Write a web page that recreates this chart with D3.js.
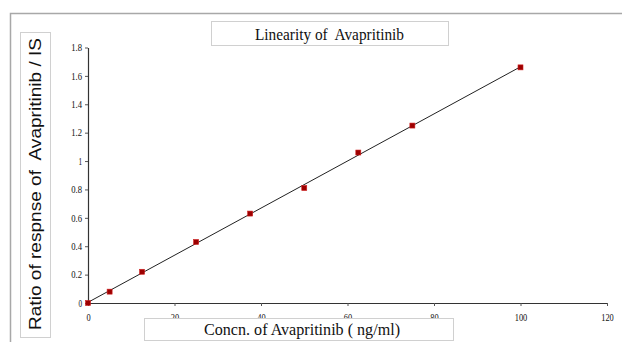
<!DOCTYPE html>
<html>
<head>
<meta charset="utf-8">
<script src="https://cdn.jsdelivr.net/npm/d3@7"></script>
<style>
  body { margin: 0; background: #fff; }
  svg { display: block; }
</style>
</head>
<body>
<svg id="chart"></svg>
<script>
// linearity plot, concentration vs response ratio

var width = 622;
var height = 342;

// data
var concentrations = [0, 5, 12.5, 25, 37.5, 50, 62.5, 75, 100];
var ratios = [0, 0.08, 0.22, 0.43, 0.63, 0.81, 1.06, 1.25, 1.66];
var xTicks = [0, 20, 40, 60, 80, 100, 120];
var yTicks = [0, 0.2, 0.4, 0.6, 0.8, 1, 1.2, 1.4, 1.6, 1.8];

var chartTitle = "Linearity of  Avapritinib";
var xTitle = "Concn. of Avapritinib ( ng/ml)";
var yTitle = "Ratio of respnse of  Avapritinib / IS";

var svg = d3.select("#chart")
    .attr("width", width)
    .attr("height", height);

// outer frame
svg.append("rect")
    .attr("x", 10.5).attr("y", 13.5)
    .attr("width", 700).attr("height", 400)
    .style("fill", "none")
    .style("stroke", "#a8a8a8")
    .style("stroke-width", 1.5);

// SCALES
var x = d3.scaleLinear()
    .domain([0, 120])
    .range([88, 607]);
var y = d3.scaleLinear()
    .domain([0, 1.8])
    .range([303, 47.5]);

// AXES
var xAxis = svg.append("g")
    .attr("transform", "translate(0,303)")
    .call(d3.axisBottom(x).tickValues(xTicks).tickSize(3).tickSizeOuter(0).tickPadding(8));
var yAxis = svg.append("g")
    .attr("transform", "translate(88,0)")
    .call(d3.axisLeft(y).tickValues(yTicks).tickSize(3).tickSizeOuter(0).tickPadding(3)
        .tickFormat(d3.format("~g")));

[xAxis, yAxis].forEach(function(a) {
    a.select(".domain").style("stroke", "#333").style("stroke-width", 1.2);
    a.selectAll(".tick line").style("stroke", "#555");
    a.selectAll("text")
        .style("font-family", "'Liberation Serif', serif")
        .style("font-size", "10px")
        .style("fill", "#111");
});
// condensed look of the tick labels
xAxis.selectAll(".tick").each(function(d) {
    d3.select(this).select("text")
        .attr("textLength", String(d).length * 4.2)
        .attr("lengthAdjust", "spacingAndGlyphs");
});
yAxis.selectAll(".tick").each(function(d) {
    var t = d3.format("~g")(d);
    d3.select(this).select("text")
        .attr("textLength", t.length * 3.6)
        .attr("lengthAdjust", "spacingAndGlyphs");
});

// REGRESSION LINE (least squares from the points)
var mx = d3.mean(concentrations), my = d3.mean(ratios);
var sxy = d3.sum(concentrations, (c, i) => (c - mx) * (ratios[i] - my));
var sxx = d3.sum(concentrations, c => (c - mx) * (c - mx));
var slope = sxy / sxx;
var intercept = my - slope * mx;
var xFit = [0, 100];

svg.append("line")
    .attr("x1", x(xFit[0])).attr("y1", y(intercept + slope * xFit[0]))
    .attr("x2", x(xFit[1])).attr("y2", y(intercept + slope * xFit[1]))
    .style("stroke", "#222")
    .style("stroke-width", 1);

// POINTS
var s = 5;
svg.append("g").selectAll("rect")
    .data(concentrations)
    .enter()
    .append("rect")
    .attr("x", d => x(d) - s / 2)
    .attr("y", (d, i) => y(ratios[i]) - s / 2)
    .attr("width", s)
    .attr("height", s)
    .style("fill", "#9c0000")
    .style("stroke", "#d02020")
    .style("stroke-width", 0.6);

// TITLE BOXES
function box(x0, y0, w, h) {
    svg.append("rect")
        .attr("x", x0 + 0.5).attr("y", y0 + 0.5)
        .attr("width", w).attr("height", h)
        .style("fill", "#fff")
        .style("stroke", "#d0d0d0")
        .style("stroke-width", 1);
}

box(211, 21, 237, 24);
svg.append("text")
    .attr("x", 329.5).attr("y", 39.5)
    .attr("text-anchor", "middle")
    .attr("textLength", 149)
    .attr("lengthAdjust", "spacingAndGlyphs")
    .style("font-family", "'Liberation Serif', serif")
    .style("font-size", "17px")
    .style("fill", "#111")
    .style("white-space", "pre")
    .text(chartTitle);

box(144, 318, 309, 22);
svg.append("text")
    .attr("x", 302).attr("y", 335)
    .attr("text-anchor", "middle")
    .attr("textLength", 196)
    .attr("lengthAdjust", "spacingAndGlyphs")
    .style("font-family", "'Liberation Serif', serif")
    .style("font-size", "17px")
    .style("fill", "#111")
    .text(xTitle);

box(20, 32, 30, 305);
svg.append("text")
    .attr("transform", "translate(41,184) rotate(-90)")
    .attr("text-anchor", "middle")
    .attr("textLength", 292)
    .attr("lengthAdjust", "spacingAndGlyphs")
    .style("font-family", "'Liberation Sans', sans-serif")
    .style("font-size", "16px")
    .style("fill", "#111")
    .style("white-space", "pre")
    .text(yTitle);
</script>
</body>
</html>
